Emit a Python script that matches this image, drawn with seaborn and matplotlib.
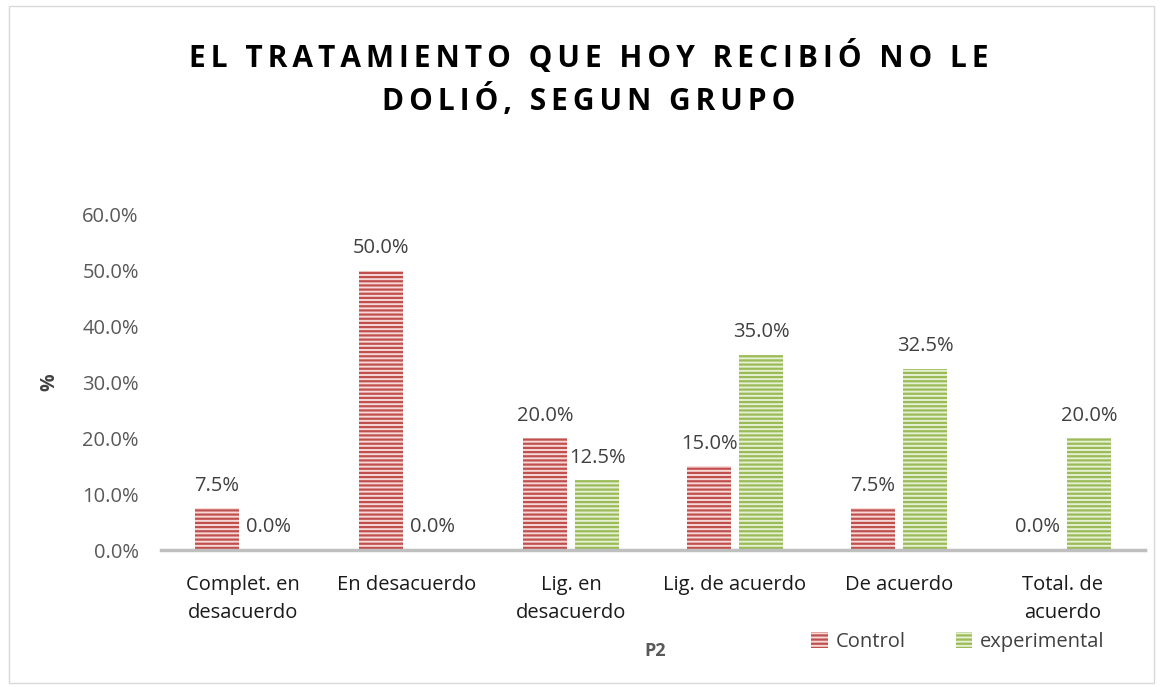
import matplotlib
matplotlib.use("Agg")
import matplotlib.pyplot as plt
import seaborn as sns
import pandas as pd
from matplotlib.patches import Rectangle

categories = ["Complet. en\ndesacuerdo", "En desacuerdo", "Lig. en\ndesacuerdo",
              "Lig. de acuerdo", "De acuerdo", "Total. de\nacuerdo"]
control = [0.075, 0.50, 0.20, 0.15, 0.075, 0.0]
experimental = [0.0, 0.0, 0.125, 0.35, 0.325, 0.20]
groups = ["Control", "experimental"]
yticks = [0.0, 0.1, 0.2, 0.3, 0.4, 0.5, 0.6]

df = pd.DataFrame({
    "cat": categories * 2,
    "val": control + experimental,
    "grp": [groups[0]] * len(categories) + [groups[1]] * len(categories),
})

sns.set_theme(style="white")
plt.rcParams['font.family'] = ['Open Sans', 'DejaVu Sans']
plt.rcParams['hatch.linewidth'] = 1.6

dark = {"Control": "#C0504D", "experimental": "#9BBB59"}
light = {"Control": "#F6D9D8", "experimental": "#E6F0D2"}

fig = plt.figure(figsize=(11.63, 6.87), dpi=100)
ax = fig.add_axes([161/1163, 1-550/687, 984/1163, 335/687])

sns.barplot(data=df, x="cat", y="val", hue="grp", hue_order=groups,
            palette=dark, width=0.634, gap=0.17, ax=ax, legend=False,
            errorbar=None)

for cont, g in zip(ax.containers, groups):
    for p in cont:
        p.set_facecolor(light[g])
        p.set_edgecolor(dark[g])
        p.set_hatch("----")
        p.set_linewidth(0)
    ax.bar_label(cont, labels=[f"{v*100:.1f}%" for v in cont.datavalues],
                 padding=9, fontsize=14.5, color="#404040")

ax.set_ylim(0, 0.6)
ax.set_yticks(yticks)
ax.set_yticklabels([f"{t*100:.1f}%" for t in yticks])
ax.tick_params(axis="y", length=0, pad=16, labelsize=14.5, labelcolor="#595959")
ax.tick_params(axis="x", length=0, pad=18, labelsize=14.5, labelcolor="#1a1a1a")
for lab in ax.get_xticklabels():
    lab.set_linespacing(1.55)

for s in ["top", "right", "left"]:
    ax.spines[s].set_visible(False)
ax.spines["bottom"].set_color("#BFBFBF")
ax.spines["bottom"].set_linewidth(2.5)
ax.set_xlim(-0.5, 5.5)

ax.set_ylabel("%", fontsize=14, fontweight="bold", color="#404040")
ax.yaxis.set_label_coords(-0.103, 0.5)
ax.set_xlabel("P2", fontsize=13, fontweight="bold", color="#595959")
ax.xaxis.set_label_coords(0.502, -0.275)

handles = [Rectangle((0, 0), 1, 1, facecolor=light[g], edgecolor=dark[g],
                     hatch="----", linewidth=0) for g in groups]
fig.legend(handles, groups, loc="center", bbox_to_anchor=(958/1163, 1-642/687),
           ncol=2, frameon=False, fontsize=14.5, handlelength=0.8,
           handleheight=0.8, handletextpad=0.4, columnspacing=2.5,
           labelcolor="#404040")

hs = "\u2006"
line1 = "EL TRATAMIENTO QUE HOY RECIBIÓ NO LE"
line2 = "DOLIÓ, SEGUN GRUPO"
sp = lambda s: hs.join(list(s))
fig.text(589/1163, 1-57/687, sp(line1), ha="center", va="center",
         fontsize=21.5, fontweight="bold", color="#000000")
fig.text(589/1163, 1-100/687, sp(line2), ha="center", va="center",
         fontsize=21.5, fontweight="bold", color="#000000")

fig.patches.append(Rectangle((0.008, 0.006), 0.984, 0.985, transform=fig.transFigure,
                             fill=False, edgecolor="#D9D9D9", linewidth=1))

fig.savefig("out.png", dpi=100)
